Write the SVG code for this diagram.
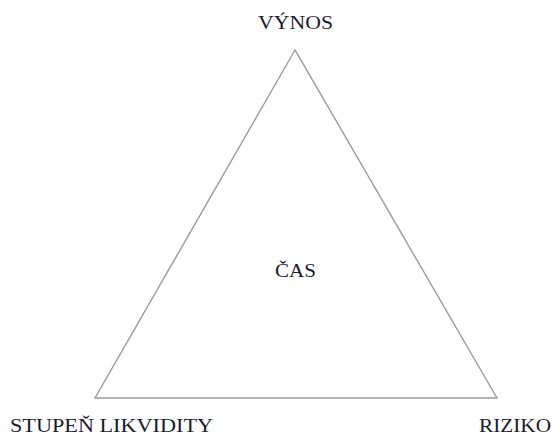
<svg xmlns="http://www.w3.org/2000/svg" width="552" height="435" viewBox="0 0 552 435">
<style>
.t{font-family:"Liberation Serif","Times New Roman",serif;font-size:19px;fill:#1a1a2e}
.edge{fill:none;stroke:#9a9a9a;stroke-width:1.4;stroke-linejoin:miter}
</style>
<rect width="552" height="435" fill="#ffffff"/>
<g id="connectors">
<polygon class="edge" points="295,50 95,398 497,398"/>
</g>
<g id="node-vynos"><text class="t" x="258" y="29" textLength="75" lengthAdjust="spacingAndGlyphs">VÝNOS</text></g>
<g id="node-cas"><text class="t" x="275" y="277" textLength="41" lengthAdjust="spacingAndGlyphs">ČAS</text></g>
<g id="node-likvidita"><text class="t" x="10" y="432" textLength="203" lengthAdjust="spacingAndGlyphs">STUPEŇ LIKVIDITY</text></g>
<g id="node-riziko"><text class="t" x="479" y="432" textLength="72" lengthAdjust="spacingAndGlyphs">RIZIKO</text></g>
</svg>
